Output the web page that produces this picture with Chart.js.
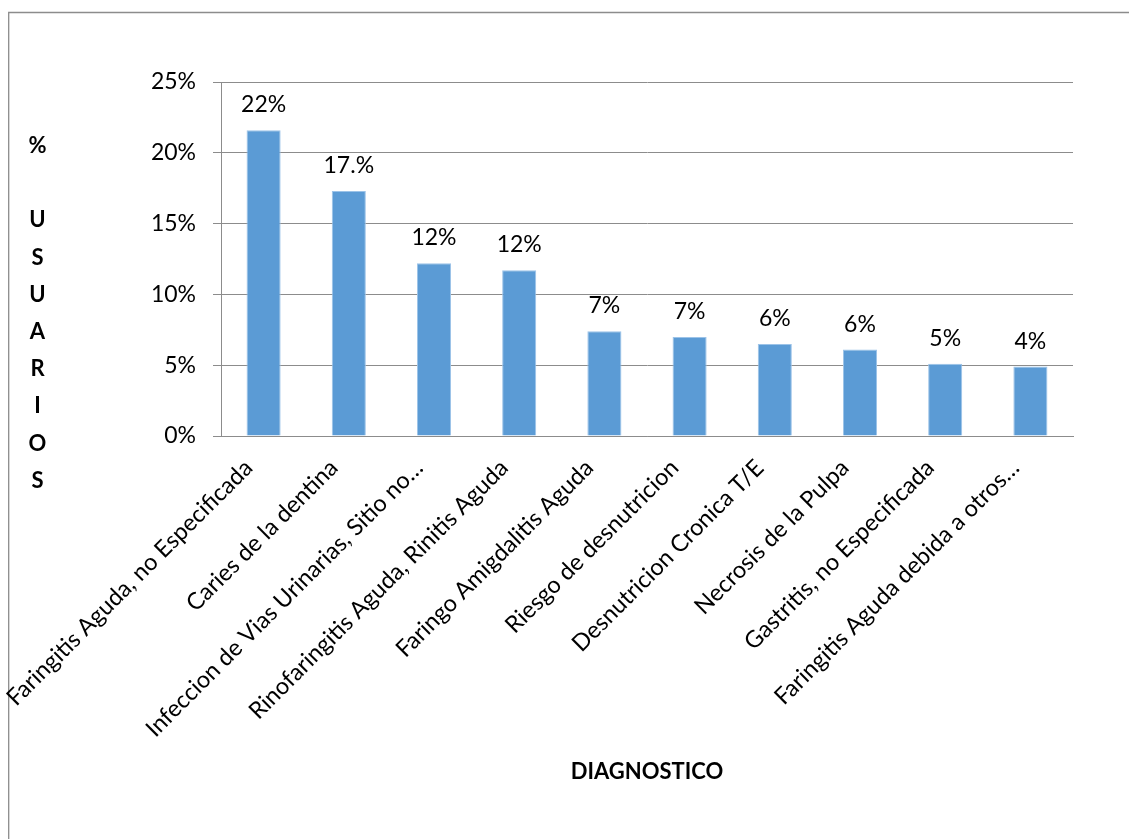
<!DOCTYPE html>
<html lang="es">
<head>
<meta charset="utf-8">
<title>Diagnósticos más frecuentes</title>
<script src="https://cdn.jsdelivr.net/npm/chart.js@4.4.1/dist/chart.umd.min.js"></script>
<style>
  html, body { margin: 0; padding: 0; background: #ffffff; }
  #wrap { position: relative; width: 1129px; height: 839px; }
</style>
</head>
<body>
<div id="wrap"><canvas id="chart" width="1129" height="839"></canvas></div>
<script>
// Diagnósticos (eje X)
const categories = [
  'Faringitis Aguda, no Especificada',
  'Caries de la dentina',
  'Infeccion de Vias Urinarias, Sitio no…',
  'Rinofaringitis Aguda, Rinitis Aguda',
  'Faringo Amigdalitis Aguda',
  'Riesgo de desnutricion',
  'Desnutricion Cronica T/E',
  'Necrosis de la Pulpa',
  'Gastritis, no Especificada',
  'Faringitis Aguda debida a otros…'
];

// Porcentaje de usuarios por diagnóstico
const percentUsers = [21.6, 17.3, 12.2, 11.7, 7.4, 7.0, 6.5, 6.1, 5.1, 4.9];

// Etiquetas mostradas sobre cada barra
const valueLabels = ['22%', '17.%', '12%', '12%', '7%', '7%', '6%', '6%', '5%', '4%'];

// Marcas del eje Y
const yTicks = [0, 5, 10, 15, 20, 25];

// Título vertical del eje Y, una letra por renglón
const yTitleLetters = ['%', '', 'U', 'S', 'U', 'A', 'R', 'I', 'O', 'S'];
const xTitle = 'DIAGNOSTICO';

const FONT = 'Lato, "Open Sans", sans-serif';
const GRID = '#8c8c8c';

// Marco exterior del gráfico
const framePlugin = {
  id: 'frame',
  beforeDraw(chart) {
    const ctx = chart.ctx;
    ctx.save();
    ctx.strokeStyle = '#8c8c8c';
    ctx.lineWidth = 1.3;
    ctx.beginPath();
    ctx.moveTo(8.7, chart.height + 5);
    ctx.lineTo(8.7, 12.5);
    ctx.lineTo(chart.width + 5, 12.5);
    ctx.stroke();
    ctx.restore();
  }
};

// Valores encima de las barras
const valueLabelPlugin = {
  id: 'valueLabels',
  afterDatasetsDraw(chart) {
    const ctx = chart.ctx;
    const meta = chart.getDatasetMeta(0);
    ctx.save();
    ctx.font = '23px ' + FONT;
    ctx.fillStyle = '#000000';
    ctx.textAlign = 'center';
    ctx.textBaseline = 'alphabetic';
    meta.data.forEach((bar, i) => {
      ctx.fillText(valueLabels[i], bar.x, bar.y - 18);
    });
    ctx.restore();
  }
};

// Título del eje Y escrito letra por letra en vertical
const yTitlePlugin = {
  id: 'yTitle',
  afterDraw(chart) {
    const ctx = chart.ctx;
    ctx.save();
    ctx.font = 'bold 22px ' + FONT;
    ctx.fillStyle = '#000000';
    ctx.textAlign = 'center';
    ctx.textBaseline = 'middle';
    const step = 37.2;
    yTitleLetters.forEach((ch, i) => {
      if (ch) ctx.fillText(ch, 37.5, 146 + i * step);
    });
    ctx.restore();
  }
};

new Chart(document.getElementById('chart'), {
  type: 'bar',
  data: {
    labels: categories,
    datasets: [{
      data: percentUsers,
      backgroundColor: '#5b9bd5',
      borderColor: '#9cc3e8',
      borderWidth: 1,
      categoryPercentage: 1.0,
      barPercentage: 0.4
    }]
  },
  options: {
    responsive: false,
    animation: false,
    events: [],
    layout: { padding: { top: 82, right: 56, bottom: 54, left: 0 } },
    plugins: {
      legend: { display: false },
      tooltip: { enabled: false }
    },
    scales: {
      x: {
        grid: { display: false, drawTicks: false },
        border: { display: true, color: GRID, width: 1 },
        ticks: {
          color: '#000000',
          font: { family: FONT, size: 23.5 },
          minRotation: 45,
          maxRotation: 45,
          autoSkip: false,
          padding: 18,
          labelOffset: -15
        },
        title: {
          display: true,
          text: xTitle,
          color: '#000000',
          font: { family: FONT, size: 22, weight: 'bold' },
          padding: { top: 0, bottom: 0 }
        },
        afterFit(scale) {
          // the slanted labels may hang past the plot edges
          scale.height = 349;
          scale.paddingLeft = 0;
          scale.paddingRight = 0;
        }
      },
      y: {
        min: 0,
        max: 25,
        grid: { color: GRID, lineWidth: 1, tickLength: 8, tickColor: GRID },
        border: { display: true, color: GRID, width: 1 },
        afterBuildTicks(scale) { scale.ticks = yTicks.map(v => ({ value: v })); },
        ticks: {
          color: '#000000',
          font: { family: FONT, size: 23 },
          padding: 17,
          callback: v => v + '%'
        },
        afterFit(scale) { scale.width = 221; }
      }
    }
  },
  plugins: [framePlugin, valueLabelPlugin, yTitlePlugin]
});
</script>
</body>
</html>
